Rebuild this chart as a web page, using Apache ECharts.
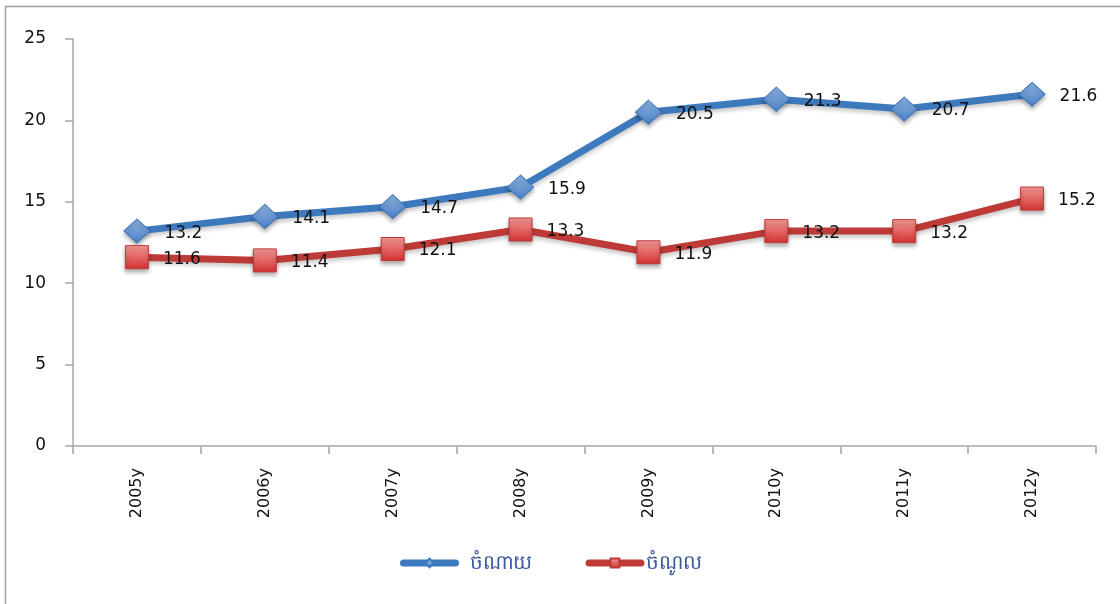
<!DOCTYPE html>
<html>
<head>
<meta charset="utf-8">
<script src="https://cdn.jsdelivr.net/npm/echarts@6/dist/echarts.min.js"></script>
<style>
  html, body { margin: 0; padding: 0; background: #fff; }
  #chart { width: 1120px; height: 604px; }
</style>
</head>
<body>
<div id="chart"></div>
<script>
// data
const years = ["2005y", "2006y", "2007y", "2008y", "2009y", "2010y", "2011y", "2012y"];
const expense = [13.2, 14.1, 14.7, 15.9, 20.5, 21.3, 20.7, 21.6]; // ចំណាយ
const revenue = [11.6, 11.4, 12.1, 13.3, 11.9, 13.2, 13.2, 15.2]; // ចំណូល
const yTicks = [0, 5, 10, 15, 20, 25];

const FONT = "DejaVu Sans";
const AXIS_GRAY = "#a6a6a6";
const LEGEND_BLUE = "#3a5a9c";

const chart = echarts.init(document.getElementById("chart"));

// little helper for glossy marker fill
const grad = (top, bottom) =>
  new echarts.graphic.LinearGradient(0, 0, 0, 1, [
    { offset: 0, color: top },
    { offset: 1, color: bottom },
  ]);

const makeSeries = (name, data, lineColor, symbol, size, top, bottom) => ({
  name: name,
  type: "line",
  data: data,
  symbol: symbol,
  symbolSize: size,
  lineStyle: {
    width: 7,
    color: lineColor,
    shadowColor: "rgba(0,0,0,0.22)",
    shadowBlur: 4,
    shadowOffsetY: 3,
  },
  itemStyle: {
    color: grad(top, bottom),
    borderColor: lineColor,
    borderWidth: 1,
    shadowColor: "rgba(0,0,0,0.3)",
    shadowBlur: 4,
    shadowOffsetY: 3,
  },
  label: {
    show: true,
    position: "right",
    distance: 14,
    offset: [0, 2],
    color: "#111",
    fontFamily: FONT,
    fontSize: 17,
  },
  emphasis: { disabled: true },
  z: 3,
});

chart.setOption({
  animation: false,
  textStyle: { fontFamily: FONT },
  graphic: [
    {
      type: "rect",
      shape: { x: 5.5, y: 6.5, width: 1130, height: 620 },
      style: { fill: "none", stroke: "#a0a0a0", lineWidth: 1.5 },
      silent: true,
    },
  ],
  grid: { left: 73, right: 24, top: 39, bottom: 158, containLabel: false },
  legend: {
    bottom: 26,
    left: 395,
    itemWidth: 52,
    itemHeight: 11,
    itemGap: 54,
    lineStyle: { width: 7, cap: "round" },
    itemStyle: { shadowBlur: 0, shadowOffsetY: 0 },
    // first entry sits further from its icon than the second one
    formatter: (name) => (name === "ចំណាយ" ? "{far|" + name + "}" : "{near|" + name + "}"),
    textStyle: {
      color: LEGEND_BLUE,
      fontSize: 20,
      fontFamily: "Noto Sans, DejaVu Sans",
      rich: {
        far: { color: LEGEND_BLUE, fontSize: 20, padding: [0, 0, 0, 9] },
        near: { color: LEGEND_BLUE, fontSize: 20, padding: [0, 0, 0, 0] },
      },
    },
    data: ["ចំណាយ", "ចំណូល"],
  },
  xAxis: {
    type: "category",
    data: years,
    boundaryGap: true,
    axisLine: { lineStyle: { color: AXIS_GRAY, width: 1.5 } },
    axisTick: { show: true, length: 8, alignWithLabel: false, lineStyle: { color: AXIS_GRAY, width: 1.5 } },
    axisLabel: {
      rotate: 90,
      margin: 22,
      color: "#111",
      fontSize: 16,
      fontFamily: FONT,
    },
  },
  yAxis: {
    type: "value",
    min: yTicks[0],
    max: yTicks[yTicks.length - 1],
    interval: 5,
    splitLine: { show: false },
    axisLine: { show: true, lineStyle: { color: AXIS_GRAY, width: 1.5 } },
    axisTick: { show: true, length: 8, lineStyle: { color: AXIS_GRAY, width: 1.5 } },
    axisLabel: {
      margin: 27,
      color: "#111",
      fontSize: 17,
      fontFamily: FONT,
    },
  },
  series: [
    makeSeries("ចំណាយ", expense, "#3d79bd", "diamond", [26, 24], "#8fb4e3", "#4a80c4"),
    makeSeries("ចំណូល", revenue, "#be3a37", "rect", [23, 23], "#f49a98", "#d2322f"),
  ],
});
</script>
</body>
</html>
